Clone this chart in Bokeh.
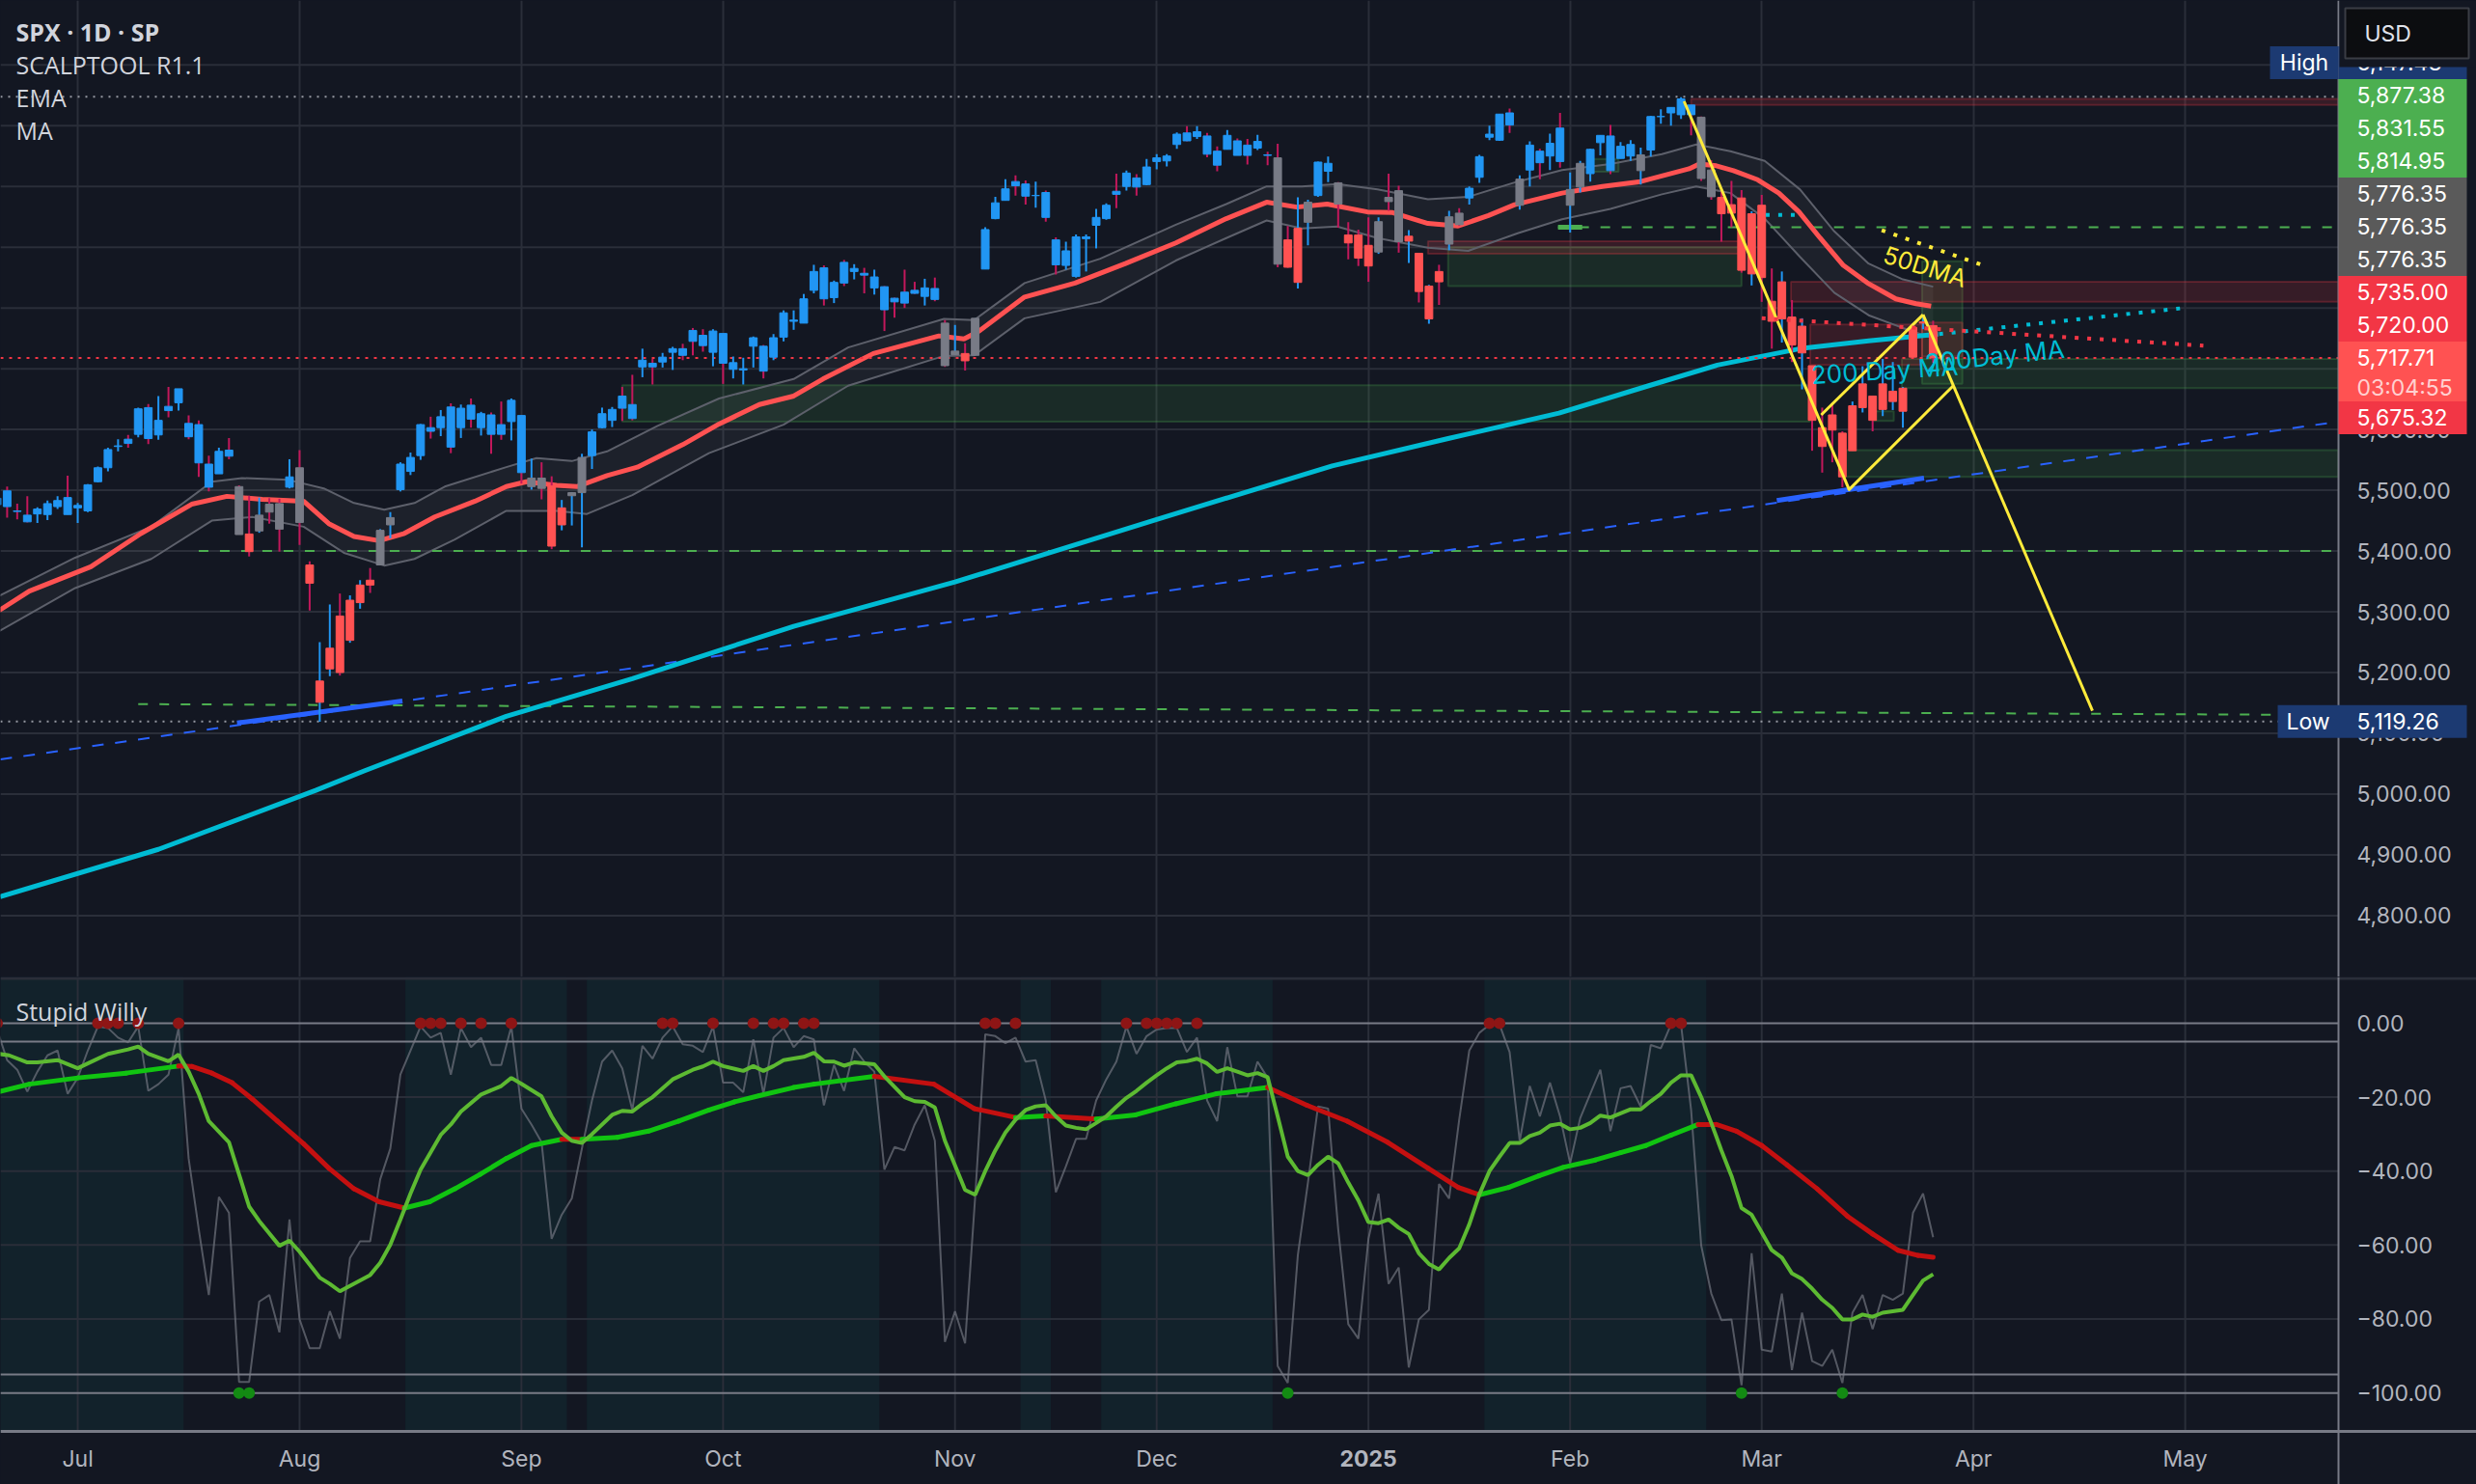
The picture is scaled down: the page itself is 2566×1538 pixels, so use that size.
from bokeh.plotting import figure
from bokeh.layouts import column
from bokeh.models import Range1d, FixedTicker, Grid
from bokeh.embed import file_html
from bokeh.resources import INLINE
from bokeh.core.properties import value

# ------------------------------------------------------------------ data
# x axis = trading-bar index (Jul 1 2024 = 0); first visible bar is Jun 18 2024
month_ticks = [0, 22, 44, 64, 87, 107, 128, 148, 167, 188, 209]
month_labels = ["Jul", "Aug", "Sep", "Oct", "Nov", "Dec", "2025", "Feb", "Mar", "Apr", "May"]
price_ticks = [4800, 4900, 5000, 5100, 5200, 5300, 5400, 5500, 5600, 5700, 5800, 5900, 6000, 6100, 6200]
willy_ticks = [0, -20, -40, -60, -80, -100]
willy_tick_labels = ["0.00", "\u221220.00", "\u221240.00", "\u221260.00", "\u221280.00", "\u2212100.00"]
willy_levels = [0, -5, -95, -100]
first_bar = -8

opens = [5476, 5499, 5466, 5459, 5461, 5460, 5473, 5488,
         5471, 5466, 5514, 5537, 5572, 5584, 5592, 5636, 5591, 5638,
         5644, 5610, 5608, 5543, 5527, 5566, 5506, 5428, 5433, 5477,
         5478, 5505, 5537, 5377, 5151, 5206, 5293, 5253, 5315, 5352,
         5377, 5443, 5501, 5531, 5557, 5603, 5603, 5637, 5603, 5640,
         5603, 5624, 5608, 5613, 5623, 5506, 5520, 5507, 5443, 5491,
         5496, 5557, 5603, 5615, 5655, 5641, 5703, 5709, 5711, 5727,
         5733, 5763, 5755, 5727, 5758, 5699, 5698, 5737, 5737, 5719,
         5752, 5778, 5775, 5829, 5866, 5817, 5875, 5860, 5857, 5833,
         5835, 5816, 5826, 5829, 5819, 5832, 5775, 5723, 5725, 5722,
         5864, 5947, 5977, 6008, 6004, 5985, 5990, 5912, 5870, 5852,
         5914, 5936, 5947, 5992, 6000, 6014, 6003, 6041, 6042, 6069,
         6088, 6082, 6083, 6058, 6061, 6075, 6068, 6063, 6052, 6047,
         5912, 5842, 5941, 5985, 6025, 6006, 5920, 5920, 5903, 5892,
         5982, 5993, 5910, 5890, 5782, 5860, 5905, 5956, 5981, 6015,
         6081, 6076, 6121, 5969, 6027, 6058, 6050, 6096, 5969, 5999,
         6021, 6072, 6083, 6046, 6050, 6026, 6060, 6115, 6121, 6118,
         6134, 6114, 6027, 5982, 5970, 5981, 5856, 5969, 5811, 5782,
         5785, 5726, 5705, 5603, 5624, 5594, 5565, 5636, 5655, 5633,
         5646, 5630, 5719, 5775, 5771]
highs = [5490, 5506, 5478, 5490, 5472, 5483, 5490, 5524,
         5479, 5510, 5539, 5570, 5584, 5591, 5636, 5642, 5655, 5670,
         5667, 5623, 5615, 5557, 5570, 5586, 5508, 5491, 5488, 5487,
         5486, 5551, 5566, 5383, 5250, 5312, 5330, 5327, 5352, 5372,
         5436, 5464, 5546, 5562, 5609, 5621, 5632, 5643, 5641, 5651,
         5629, 5628, 5646, 5651, 5624, 5552, 5546, 5523, 5484, 5497,
         5560, 5600, 5636, 5637, 5670, 5690, 5733, 5716, 5726, 5736,
         5741, 5767, 5765, 5765, 5758, 5720, 5718, 5753, 5739, 5757,
         5796, 5796, 5823, 5871, 5870, 5845, 5879, 5872, 5866, 5863,
         5836, 5817, 5863, 5843, 5848, 5850, 5780, 5772, 5742, 5783,
         5933, 5983, 6012, 6018, 6010, 6008, 5993, 5916, 5909, 5921,
         5921, 5963, 5972, 6021, 6026, 6020, 6045, 6053, 6053, 6089,
         6099, 6099, 6088, 6066, 6093, 6079, 6078, 6085, 6057, 6070,
         5935, 5982, 5978, 6041, 6049, 6007, 5941, 5929, 5949, 5949,
         6021, 6001, 5928, 5890, 5838, 5871, 5960, 5964, 6000, 6052,
         6100, 6119, 6128, 6018, 6074, 6062, 6087, 6121, 6023, 6042,
         6062, 6084, 6101, 6073, 6076, 6064, 6116, 6127, 6130, 6147,
         6134, 6115, 6043, 5992, 6009, 5994, 5959, 5986, 5865, 5860,
         5813, 5783, 5705, 5636, 5642, 5597, 5646, 5704, 5655, 5716,
         5711, 5670, 5775, 5786, 5779]
lows = [5471, 5455, 5452, 5447, 5446, 5451, 5469, 5460,
        5446, 5464, 5513, 5531, 5564, 5570, 5587, 5576, 5583, 5620,
        5631, 5584, 5522, 5498, 5527, 5551, 5427, 5391, 5430, 5445,
        5399, 5503, 5410, 5302, 5119, 5194, 5195, 5249, 5305, 5331,
        5377, 5421, 5498, 5525, 5550, 5585, 5589, 5561, 5586, 5603,
        5590, 5560, 5583, 5582, 5511, 5501, 5485, 5403, 5434, 5442,
        5406, 5535, 5602, 5604, 5614, 5615, 5686, 5674, 5702, 5698,
        5714, 5722, 5728, 5704, 5675, 5684, 5674, 5702, 5684, 5714,
        5745, 5764, 5775, 5824, 5804, 5808, 5836, 5847, 5824, 5822,
        5762, 5784, 5800, 5823, 5804, 5811, 5703, 5723, 5697, 5722,
        5864, 5946, 5977, 5985, 5970, 5965, 5942, 5855, 5863, 5850,
        5860, 5898, 5945, 5964, 5993, 5985, 6002, 6028, 6033, 6062,
        6074, 6078, 6048, 6025, 6061, 6051, 6036, 6060, 6035, 5867,
        5866, 5832, 5903, 5983, 6007, 5932, 5880, 5869, 5843, 5889,
        5960, 5891, 5874, 5809, 5774, 5805, 5895, 5935, 5970, 6006,
        6076, 6075, 6088, 5962, 6000, 6012, 6027, 6031, 5924, 5990,
        6008, 6051, 6020, 6046, 6042, 6003, 6049, 6103, 6100, 6111,
        6084, 6009, 5978, 5909, 5933, 5858, 5837, 5810, 5733, 5743,
        5711, 5666, 5565, 5529, 5546, 5505, 5565, 5628, 5597, 5622,
        5632, 5603, 5719, 5765, 5710]
closes = [5487, 5473, 5465, 5448, 5469, 5478, 5483, 5460,
          5475, 5509, 5537, 5567, 5573, 5577, 5634, 5585, 5615, 5631,
          5667, 5588, 5545, 5505, 5564, 5556, 5427, 5399, 5459, 5464,
          5436, 5522, 5447, 5347, 5186, 5240, 5200, 5319, 5344, 5344,
          5434, 5455, 5543, 5554, 5608, 5597, 5621, 5571, 5635, 5617,
          5626, 5592, 5592, 5648, 5529, 5520, 5503, 5408, 5471, 5496,
          5554, 5596, 5626, 5633, 5635, 5618, 5714, 5703, 5719, 5733,
          5722, 5745, 5738, 5762, 5709, 5710, 5700, 5751, 5696, 5751,
          5792, 5780, 5815, 5860, 5815, 5842, 5841, 5865, 5854, 5851,
          5797, 5810, 5808, 5824, 5833, 5814, 5705, 5729, 5713, 5783,
          5929, 5973, 5996, 6001, 5984, 5985, 5949, 5871, 5894, 5917,
          5917, 5949, 5969, 5987, 6022, 5999, 6032, 6047, 6050, 6086,
          6075, 6090, 6053, 6035, 6084, 6051, 6051, 6074, 6051, 5872,
          5867, 5931, 5974, 6040, 6038, 5971, 5907, 5882, 5869, 5942,
          5975, 5909, 5918, 5827, 5836, 5843, 5950, 5937, 5997, 6049,
          6086, 6119, 6101, 6012, 6068, 6039, 6071, 6041, 5995, 6038,
          6061, 6084, 6026, 6066, 6069, 6052, 6115, 6115, 6130, 6144,
          6118, 6013, 5983, 5955, 5956, 5862, 5955, 5850, 5778, 5843,
          5739, 5770, 5615, 5572, 5599, 5522, 5639, 5675, 5615, 5675,
          5663, 5668, 5768, 5777, 5718]
# body colour state of each bar: b = blue (trend up), r = red (trend down), g = grey (neutral)
body_state = ("b" * 24 + "grgggbgr" + "r" * 6 + "gg" + "b" * 13 + "gg" + "rr" + "gg" + "b" * 35
              + "gg" + "r" + "g" + "b" * 29 + "grrgbbgrrr" + "ggg" + "rrrr" + "gg" + "b" * 5 + "g"
              + "b" * 4 + "gg" + "b" * 5 + "g" + "b" * 5 + "gg" + "r" * 22)

# EMA ribbon
ema_x = [-7.8, -4.8, 1.3, 6.3, 11.3, 14.8, 18.3, 22.4, 24.9, 27.4, 29.9, 32.4, 35.4, 39.4, 42.5, 44.5,
         47.5, 49.5, 52.5, 55.5, 60, 63.6, 67.6, 71, 73.9, 78.9, 85.4, 87.9, 89.4, 93.9, 98.9, 103.9,
         108.9, 113.9, 117.9, 120.9, 123.9, 127.9, 130.4, 133.9, 136.9, 139.9, 142.5, 147.2, 151.2,
         155, 159.8, 160.8, 162.5, 164.2, 166.6, 168.7, 170.7, 172.8, 175.1, 177.5, 180.3, 182.3, 183.8]
ema_y = [5302, 5334, 5374, 5429, 5477, 5490, 5485, 5482, 5445, 5424, 5417, 5429, 5456, 5482, 5506, 5514,
         5508, 5506, 5524, 5538, 5575, 5609, 5641, 5655, 5683, 5725, 5754, 5749, 5762, 5818, 5841, 5873,
         5907, 5947, 5974, 5966, 5971, 5958, 5957, 5939, 5935, 5952, 5970, 5989, 6000,
         6008, 6029, 6037, 6034, 6026, 6011, 5989, 5958, 5915, 5870, 5841, 5815, 5807, 5803]
band_up_x = [-7.8, -0.25, 7.3, 13.3, 16.3, 20.9, 24.4, 27.4, 30.4, 33.4, 36.4, 42.5, 45.5, 49, 52.5,
             57.5, 63.6, 71, 76.4, 85.9, 88.9, 93.9, 101.4, 108.9, 113.9, 117.9, 121.4, 124.9, 128.9,
             133.9, 137.9, 142.8, 147.2, 152, 157.1, 160.5, 163.9, 167.3, 170.8, 174.2, 177.6, 181, 184]
band_up_y = [5326, 5389, 5440, 5514, 5520, 5517, 5503, 5479, 5468, 5479, 5506, 5538, 5553, 5548, 5564,
             5606, 5651, 5683, 5735, 5782, 5780, 5841, 5881, 5937, 5971, 6000, 6000, 6004, 5995,
             5979, 5983, 6008, 6027, 6037, 6053, 6069, 6058, 6042, 5995, 5926, 5873, 5847, 5835]
band_lo_x = [-7.8, -0.25, 7.3, 13.3, 17.3, 22.4, 26.4, 30.4, 33.4, 37.4, 42.5, 47.5, 50.5, 55, 62.6,
             70, 76.4, 85.9, 88.9, 93.9, 101.4, 108.9, 113.9, 117.9, 121.4, 124.9, 128.9, 133.9,
             137.9, 142.8, 147.2, 152, 157.1, 160.5, 163.9, 167.3, 170.8, 174.2, 177.6, 181, 184]
band_lo_y = [5268, 5339, 5387, 5450, 5456, 5440, 5397, 5376, 5387, 5419, 5466, 5466, 5461, 5492, 5561,
             5608, 5672, 5721, 5722, 5783, 5810, 5878, 5915, 5944, 5931, 5934, 5915, 5899,
             5894, 5923, 5946, 5963, 5987, 6000, 5989, 5947, 5884, 5825, 5788, 5767, 5750]
# 200-day moving average
ma200_x = [-7.7, 8, 23.6, 28.4, 42.5, 55, 71, 87, 107, 124.4, 135.9, 146.9, 155.8, 162.6, 170.8, 177.6, 184.5]
ma200_y = [4831, 4909, 5006, 5038, 5128, 5190, 5276, 5349, 5452, 5540, 5585, 5627, 5672, 5706, 5733, 5746, 5757]

# supply / demand zones (left, right, bottom, top)
green_zones = [(54, 171.8, 5613, 5673), (135.9, 165, 5836, 5900), (150, 152.8, 6024, 6045),
               (180.9, 224.2, 5668, 5716), (175.2, 224.2, 5522, 5566), (182.9, 186.9, 5675, 5877),
               (178.1, 180.1, 5614, 5630)]
red_zones = [(160, 224.2, 6134, 6144), (133.9, 165, 5889, 5910), (169.9, 224.2, 5810, 5843),
             (171.8, 182.9, 5706, 5773), (182.9, 186.9, 5720, 5776)]

high_price = 6147.43
low_price = 5119.26
last_price = 5717.71
green_dash_flat = (12, 224.2, 5400)
green_dash_low = ((6, 5148), (224.2, 5130))
green_dash_top = (146.8, 224.2, 5933)
blue_trend = ((-7.66, 5057), (224.2, 5613))
blue_solid = [((15.8, 5117), (32.2, 5153)), ((168.5, 5483), (183.1, 5520))]
yellow_lines = [((159.3, 6140), (175.7, 5500)), ((172.9, 5624), (183.0, 5789)),
                ((175.6, 5500), (186.0, 5672)), ((183.0, 5789), (199.8, 5137))]
yellow_dotted = ((178.9, 5928), (189.0, 5870))
cyan_dotted = [((167.4, 5953), (170.6, 5953)), ((184.6, 5757), (208.9, 5800))]
red_dotted = ((167.0, 5783), (210.8, 5738))

# right-axis price tags (top to bottom)
tag_texts = ["6,147.43", "5,877.38", "5,831.55", "5,814.95", "5,776.35", "5,776.35", "5,776.35",
             "5,735.00", "5,720.00", "5,717.71", "03:04:55", "5,675.32"]
tag_kinds = ["high", "green", "green", "green", "grey", "grey", "grey", "red", "red", "last", "timer", "red"]

# Stupid Willy pane
willy_raw = [-1.7, -10.0, -12.6, -18.5, -13.1, -8.7, -7.4, -19.1,
             -14.8, -7.4, -0.9, -1.3, -3.9, -5.2, -0.9, -18.3, -16.5, -13.9,
             -1.3, -36.6, -55.7, -73.5, -47.0, -51.3, -97.0, -97.0, -75.3, -73.5,
             -83.6, -53.1, -80.1, -87.9, -87.9, -77.9, -85.3, -63.5, -59.0, -59.0,
             -42.2, -33.9, -13.9, -7.4, -0.9, -3.9, -2.6, -13.9, -1.3, -6.5,
             -3.9, -11.3, -11.3, -0.9, -23.1, -27.4, -32.2, -58.3, -51.8, -47.4,
             -33.9, -20.9, -10.4, -7.4, -12.2, -23.5, -6.1, -9.6, -3.9, -0.9,
             -5.7, -6.1, -7.8, -0.9, -16.1, -16.1, -18.7, -4.4, -19.1, -3.9,
             -1.3, -6.5, -3.5, -4.4, -22.2, -11.3, -18.3, -6.8, -10.4, -13.1,
             -39.6, -33.5, -34.4, -27.4, -22.2, -31.8, -86.2, -77.9, -86.6, -47.0,
             -3.0, -3.5, -5.4, -3.9, -10.4, -10.0, -20.9, -45.7, -38.7, -31.3,
             -31.3, -20.9, -15.2, -10.4, -0.9, -8.3, -3.5, -1.7, -1.3, -1.3,
             -7.8, -3.9, -20.9, -26.5, -6.5, -19.8, -19.8, -10.4, -14.8, -92.7,
             -97.3, -62.7, -43.1, -22.5, -23.1, -55.7, -81.4, -85.3, -58.3, -46.1,
             -70.5, -66.1, -93.1, -80.1, -77.5, -43.5, -47.4, -26.1, -7.4, -2.6,
             -0.4, -0.4, -7.8, -31.8, -17.0, -25.2, -16.1, -25.2, -37.9, -25.7,
             -19.1, -12.6, -29.2, -17.6, -17.0, -22.6, -5.9, -6.8, -0.4, -0.4,
             -23.5, -60.1, -73.1, -80.3, -80.1, -97.9, -62.2, -88.3, -88.8, -73.1,
             -93.8, -78.3, -91.4, -92.7, -88.3, -97.3, -78.3, -73.5, -82.7, -73.5,
             -74.8, -73.1, -51.3, -46.1, -57.9]
fast_x = [-7.8, -6.8, -5, -4, -2, 0, 1, 3, 5, 6, 7, 9, 10, 11, 12, 13, 15, 16, 17, 18, 20, 21, 22, 24, 25,
          26, 29, 30, 31, 32, 33, 34, 36, 37, 38, 40, 42, 43, 44, 46, 47, 48, 49, 50, 51, 53, 54, 55, 56,
          57, 59, 61, 62, 63, 64, 66, 67, 68, 69, 70, 72, 73, 74, 75, 76, 77, 79, 80, 82, 83, 84, 85, 86,
          88, 89, 90, 91, 92, 93, 94, 95, 96, 97, 98, 99, 100, 101, 102, 103, 104, 105, 106, 107, 108,
          109, 110, 111, 112, 113, 114, 115, 116, 117, 118, 119, 120, 121, 122, 123, 124, 125, 126, 127,
          128, 129, 130, 131, 132, 133, 134, 135, 136, 137, 138, 139, 140, 141, 142, 143, 144, 145, 146,
          147, 148, 149, 150, 151, 152, 153, 154, 155, 156, 157, 158, 159, 160, 161, 162, 163, 164, 165,
          166, 167, 168, 169, 170, 171, 172, 173, 174, 175, 176, 177, 178, 179, 180, 181, 182, 183, 184]
fast_y = [-8.3, -8.7, -10.6, -10.6, -10.0, -12.2, -10.9, -8.3, -7.1, -6.3, -8.3, -10.3, -8.5, -13.1,
          -19.1, -26.5, -32.2, -40.9, -49.6, -53.5, -60.2, -58.8, -61.8, -68.8, -70.5, -72.5, -68.1,
          -64.8, -59.9, -53.1, -46.1, -39.6, -30.2, -27.4, -23.9, -19.3, -17.0, -14.8, -16.4, -19.8,
          -25.2, -29.6, -31.8, -32.4, -30.0, -24.8, -23.7, -23.9, -21.8, -20.0, -15.2, -12.6, -11.7,
          -10.4, -11.6, -12.9, -11.6, -12.9, -11.6, -10.0, -9.1, -8.0, -10.3, -10.4, -11.5, -10.6,
          -11.1, -14.4, -20.0, -21.1, -21.3, -22.8, -31.8, -45.1, -46.4, -40.0, -34.4, -29.6, -26.1,
          -23.5, -22.5, -22.2, -25.2, -27.7, -28.3, -28.7, -27.0, -25.2, -22.6, -20.2, -18.3, -16.1,
          -14.1, -12.2, -10.6, -10.3, -9.6, -10.9, -13.2, -12.2, -13.1, -14.1, -13.5, -14.6, -25.2,
          -36.1, -40.0, -41.1, -38.3, -36.1, -37.9, -43.1, -47.9, -53.8, -54.1, -53.1, -55.3, -57.0,
          -62.2, -65.1, -66.6, -63.5, -60.9, -54.4, -46.3, -40.0, -36.1, -32.4, -32.4, -30.5, -29.6,
          -27.7, -27.2, -28.7, -28.3, -27.0, -25.0, -25.5, -24.4, -23.3, -23.3, -21.1, -19.1, -16.1,
          -14.1, -14.1, -20.0, -27.0, -34.4, -41.3, -50.0, -51.8, -56.6, -61.4, -63.4, -67.7, -69.2,
          -71.8, -74.8, -77.0, -80.1, -80.1, -78.8, -79.4, -78.3, -77.9, -77.5, -73.5, -69.6, -67.9]
slow_x = [-7.8, -4.8, 0, 4.8, 10, 11.3, 13.3, 15.3, 17.3, 19.8, 22.4, 24.9, 27.4, 29.9, 32.4, 34.9, 37.4,
          39.9, 42.5, 45, 48, 50, 53.5, 56.6, 59.6, 62.6, 65.1, 67.6, 71, 73, 79, 84.9, 88.9, 93, 96, 101,
          104.9, 108.9, 112.9, 118, 121.9, 125.9, 129.9, 133.9, 136.9, 139, 141.9, 144.9, 147.3, 150.5,
          153, 155.5, 158, 160.7, 162.5, 164.5, 167, 169.5, 172.5, 175.5, 178, 180.5, 182.5, 184]
slow_y = [-18.5, -16.5, -14.8, -13.5, -11.6, -11.7, -13.5, -16.1, -20.5, -26.5, -32.6, -39.2, -44.8,
          -48.3, -50.0, -48.3, -44.8, -40.9, -36.6, -33.1, -31.4, -31.4, -30.9, -29.2, -26.5, -23.5,
          -21.3, -19.6, -17.4, -16.5, -14.4, -16.5, -23.1, -25.5, -25.1, -25.9, -24.8, -21.8, -19.1,
          -17.4, -22.2, -26.5, -32.2, -39.2, -44.4, -46.4, -44.4, -41.3, -39.0, -37.0, -35.0, -33.1,
          -30.3, -27.4, -27.4, -29.2, -33.1, -38.3, -44.8, -52.2, -57.0, -61.4, -62.8, -63.3]
slow_red_spans = [(10, 32.4), (48, 50), (79, 93), (96, 101), (118, 139), (160.7, 185)]
top_dots = [-8, 2, 3, 4, 6, 10, 34, 35, 36, 38, 40, 43, 58, 59, 63, 67, 69, 70, 72, 73, 90, 91, 93,
            104, 106, 107, 108, 109, 111, 140, 141, 158, 159]
bottom_dots = [16, 17, 120, 165, 175]
teal_spans = [(-8.5, 10.5), (32.5, 48.5), (50.5, 79.5), (93.5, 96.5), (101.5, 118.5), (139.5, 161.5)]

# ------------------------------------------------------------------ style / layout
BG = "#131722"
GRIDC = "#2a2e39"
AXC = "#b2b5be"
SEP = "#787b86"
FONT = "Inter"
TXT = "#d1d4dc"
TOTAL_W = 2566
FRAME_W, MAIN_H = 2423, 1012
LOW_H, LOW_FRAME_H = 526, 471
X0, X1 = -7.66, 224.2
Y0, Y1 = 4699.0, 6306.0
W1, W2 = -110.4, 12.5
PX_X = FRAME_W / (X1 - X0)
PX_Y = MAIN_H / (Y1 - Y0)
PX_W = LOW_FRAME_H / (W2 - W1)
XR = X0 + TOTAL_W / PX_X          # both panes also cover the price-scale strip
W1X = W2 - LOW_H / PX_W           # lower pane also covers the time-scale strip


def bx(px):  # screen x -> bar coordinate (annotation placement only)
    return X0 + px / PX_X


def by(py):  # screen y -> price (annotation placement only)
    return Y1 - py / PX_Y


def bw(py):  # screen y inside lower pane -> indicator value
    return W2 - py / PX_W


LABEL_X = bx(2442)

# ================================================================== price pane
p = figure(width=TOTAL_W, height=MAIN_H, x_range=Range1d(X0, XR), y_range=Range1d(Y0, Y1),
           x_axis_location=None, y_axis_location=None, toolbar_location=None,
           output_backend="svg", background_fill_color=BG, border_fill_color=BG,
           min_border_left=0, min_border_right=0, min_border_top=0, min_border_bottom=0,
           outline_line_color=None)
p.grid.visible = False
p.add_layout(Grid(dimension=0, ticker=FixedTicker(ticks=month_ticks), grid_line_color=GRIDC,
                  grid_line_width=2))
p.segment(x0=[X0] * len(price_ticks), x1=[X1] * len(price_ticks), y0=price_ticks, y1=price_ticks,
          line_color=GRIDC, line_width=2)

# zones
p.quad(left=[z[0] for z in green_zones], right=[z[1] for z in green_zones],
       bottom=[z[2] for z in green_zones], top=[z[3] for z in green_zones],
       fill_color="#4caf50", fill_alpha=0.13, line_color="#4caf50", line_alpha=0.25, line_width=2)
p.quad(left=[z[0] for z in red_zones], right=[z[1] for z in red_zones],
       bottom=[z[2] for z in red_zones], top=[z[3] for z in red_zones],
       fill_color="#f23645", fill_alpha=0.16, line_color="#f23645", line_alpha=0.25, line_width=2)

# EMA ribbon
p.patch(band_up_x + band_lo_x[::-1], band_up_y + band_lo_y[::-1], fill_color="#ffffff", fill_alpha=0.045,
        line_color=None)
p.line(band_up_x, band_up_y, line_color="#5d606b", line_width=2)
p.line(band_lo_x, band_lo_y, line_color="#5d606b", line_width=2)

# horizontal reference lines
p.line([X0, X1], [high_price, high_price], line_color="#9598a1", line_width=2, line_dash="2 6")
p.line([X0, X1], [low_price, low_price], line_color="#9598a1", line_width=2, line_dash="2 6")
p.line([green_dash_flat[0], green_dash_flat[1]], [green_dash_flat[2]] * 2, line_color="#4caf50",
       line_width=2, line_dash="10 12")
p.line([green_dash_low[0][0], green_dash_low[1][0]], [green_dash_low[0][1], green_dash_low[1][1]],
       line_color="#4caf50", line_width=2, line_dash="10 12")
p.line([green_dash_top[0], green_dash_top[1]], [green_dash_top[2]] * 2, line_color="#4caf50",
       line_width=2, line_dash="10 12")
p.line([green_dash_top[0], green_dash_top[0] + 2.4], [green_dash_top[2]] * 2, line_color="#4caf50",
       line_width=5)
p.line([blue_trend[0][0], blue_trend[1][0]], [blue_trend[0][1], blue_trend[1][1]],
       line_color="#2962ff", line_width=2, line_dash="12 12")
for a, b in blue_solid:
    p.line([a[0], b[0]], [a[1], b[1]], line_color="#2962ff", line_width=5)

# moving averages
p.line(ma200_x, ma200_y, line_color="#00bcd4", line_width=5)
p.line(ema_x, ema_y, line_color="#ff5252", line_width=5)
p.line([X0, X1], [last_price, last_price], line_color="#f23645", line_width=2, line_dash="3 6")

# candles
COLS = {"b": "#2196f3", "r": "#ff5252", "g": "#787b86"}
xs = [first_bar + i for i in range(len(opens))]
body_cols = [COLS[s] for s in body_state]
wick_cols = ["#2196f3" if c >= o else "#c2185b" for o, c in zip(opens, closes)]
p.segment(xs, highs, xs, lows, line_color=wick_cols, line_width=2)
p.vbar(x=xs, width=0.76, top=[max(o, c) for o, c in zip(opens, closes)],
       bottom=[min(o, c) for o, c in zip(opens, closes)], fill_color=body_cols, line_color=body_cols,
       line_width=1)

# drawings
for a, b in yellow_lines:
    p.line([a[0], b[0]], [a[1], b[1]], line_color="#ffeb3b", line_width=3)
p.line([yellow_dotted[0][0], yellow_dotted[1][0]], [yellow_dotted[0][1], yellow_dotted[1][1]],
       line_color="#ffeb3b", line_width=4, line_dash="4 9")
for a, b in cyan_dotted:
    p.line([a[0], b[0]], [a[1], b[1]], line_color="#00bcd4", line_width=4, line_dash="4 9")
p.line([red_dotted[0][0], red_dotted[1][0]], [red_dotted[0][1], red_dotted[1][1]],
       line_color="#f23645", line_width=4, line_dash="4 9")

p.text(x=[183.2], y=[5868], text=["50DMA"], angle=-0.30, text_align="center", text_baseline="middle",
       text_font=value(FONT), text_font_size=value("25px"), text_color="#ffeb3b")
p.text(x=[171.9], y=[5690], text=["200 Day MA"], angle=0.06, text_align="left", text_baseline="alphabetic",
       text_font=value(FONT), text_font_size=value("26px"), text_color="#00bcd4")
p.text(x=[183.2], y=[5709], text=["200Day MA"], angle=0.105, text_align="left", text_baseline="alphabetic",
       text_font=value(FONT), text_font_size=value("26px"), text_color="#00bcd4")

# legend texts (top left)
p.text(x=[bx(16)], y=[by(32)], text=["SPX \u00b7 1D \u00b7 SP"], text_align="left", text_baseline="middle",
       text_font=value("Open Sans"), text_font_size=value("25px"), text_color=TXT, text_font_style="bold")
p.text(x=[bx(16)] * 3, y=[by(66), by(100), by(134)], text=["SCALPTOOL R1.1", "EMA", "MA"],
       text_align="left", text_baseline="middle", text_font=value("Open Sans"),
       text_font_size=value("25px"), text_color=TXT)

# ---- price scale strip (right)
p.quad(left=[X1], right=[XR], bottom=[Y0], top=[Y1], fill_color=BG, line_color=None)
p.line([X1, X1], [Y0, Y1], line_color=SEP, line_width=2)
p.text(x=[LABEL_X] * len(price_ticks), y=price_ticks, text=[f"{t:,.2f}" for t in price_ticks],
       text_align="left", text_baseline="middle", text_font=value(FONT), text_font_size=value("23px"),
       text_color=AXC)

# stacked price tags around the last price
TAG_COL = {"high": "#1c3a72", "green": "#4caf50", "grey": "#5a5a5a", "red": "#f23645",
           "last": "#ff5252", "timer": "#ff5252"}
TAG_H = {"timer": 28}
i_last = tag_kinds.index("last")
offs = [0.0] * len(tag_kinds)
for i in range(i_last - 1, -1, -1):
    offs[i] = offs[i + 1] - (TAG_H.get(tag_kinds[i], 34) + TAG_H.get(tag_kinds[i + 1], 34)) / 2
for i in range(i_last + 1, len(tag_kinds)):
    offs[i] = offs[i - 1] + (TAG_H.get(tag_kinds[i], 34) + TAG_H.get(tag_kinds[i - 1], 34)) / 2
tag_y = [last_price - o / PX_Y for o in offs]
tag_h = [TAG_H.get(k, 34) / PX_Y for k in tag_kinds]
TL, TR = bx(2423), bx(2556)
p.quad(left=[TL] * len(tag_y), right=[TR] * len(tag_y), bottom=[y - h / 2 for y, h in zip(tag_y, tag_h)],
       top=[y + h / 2 for y, h in zip(tag_y, tag_h)], fill_color=[TAG_COL[k] for k in tag_kinds],
       line_color=None)
p.text(x=[LABEL_X] * len(tag_y), y=tag_y, text=tag_texts, text_align="left", text_baseline="middle",
       text_font=value(FONT), text_font_size=value("23px"),
       text_color=["#ffd0d0" if k == "timer" else "#ffffff" for k in tag_kinds])
# High / Low markers
p.quad(left=[bx(2352)], right=[TL], bottom=[tag_y[0] - tag_h[0] / 2], top=[tag_y[0] + tag_h[0] / 2],
       fill_color=TAG_COL["high"], line_color=None)
p.text(x=[bx(2387.5)], y=[tag_y[0]], text=["High"], text_align="center", text_baseline="middle",
       text_font=value(FONT), text_font_size=value("23px"), text_color="#ffffff")
p.quad(left=[bx(2360)], right=[TR], bottom=[low_price - 17 / PX_Y], top=[low_price + 17 / PX_Y],
       fill_color=TAG_COL["high"], line_color=None)
p.text(x=[bx(2391.5), LABEL_X], y=[low_price, low_price], text=["Low", f"{low_price:,.2f}"],
       text_align=["center", "left"], text_baseline="middle", text_font=value(FONT),
       text_font_size=value("23px"), text_color="#ffffff")
# currency button (its backdrop hides the top of the High tag, as in the original)
p.quad(left=[bx(2424)], right=[XR], bottom=[by(69)], top=[Y1], fill_color=BG, line_color=None)
p.quad(left=[bx(2430)], right=[bx(2558)], bottom=[by(60)], top=[by(8)], fill_color="#0c0d10",
       line_color="#3a3d44", line_width=2)
p.text(x=[bx(2450)], y=[by(34)], text=["USD"], text_align="left", text_baseline="middle",
       text_font=value(FONT), text_font_size=value("23px"), text_color="#e0e3eb")

# ================================================================== Stupid Willy pane
p2 = figure(width=TOTAL_W, height=LOW_H, x_range=Range1d(X0, XR), y_range=Range1d(W1X, W2),
            y_axis_location=None, x_axis_location=None, toolbar_location=None,
            output_backend="svg", background_fill_color=BG, border_fill_color=BG,
            min_border_left=0, min_border_right=0, min_border_top=0, min_border_bottom=0,
            outline_line_color=None)
p2.grid.visible = False
p2.quad(left=[s[0] for s in teal_spans], right=[s[1] for s in teal_spans], bottom=W1, top=W2,
        fill_color="#0e8a80", fill_alpha=0.1, line_color=None)
p2.segment(x0=month_ticks, x1=month_ticks, y0=[W1] * len(month_ticks), y1=[W2] * len(month_ticks),
           line_color=GRIDC, line_width=2)
p2.segment(x0=[X0] * 4, x1=[X1] * 4, y0=[-80, -60, -40, -20], y1=[-80, -60, -40, -20],
           line_color=GRIDC, line_width=2)
p2.segment(x0=[X0] * len(willy_levels), x1=[X1] * len(willy_levels), y0=willy_levels, y1=willy_levels,
           line_color=SEP, line_width=2)
# pane borders
p2.line([X0, XR], [W2 - 1.5 / PX_W] * 2, line_color=GRIDC, line_width=3)
p2.line([X0, XR], [W1, W1], line_color=SEP, line_width=3)
p2.line([X1, X1], [W1X, W2], line_color=SEP, line_width=2)

p2.line([first_bar + i for i in range(len(willy_raw))], willy_raw, line_color="#787b86", line_alpha=0.65,
        line_width=2)
sx_, sy_, sc_ = [], [], []
for i in range(len(slow_x) - 1):
    mid = (slow_x[i] + slow_x[i + 1]) / 2
    red = any(a <= mid <= b for a, b in slow_red_spans)
    sx_.append([slow_x[i], slow_x[i + 1]])
    sy_.append([slow_y[i], slow_y[i + 1]])
    sc_.append("#c41010" if red else "#11c411")
p2.multi_line(sx_, sy_, line_color=sc_, line_width=5, line_cap="round")
p2.line(fast_x, fast_y, line_color="#5dba32", line_width=4)
p2.scatter(top_dots, [0] * len(top_dots), size=12, fill_color="#8e1515", line_color=None)
p2.scatter(bottom_dots, [-100] * len(bottom_dots), size=12, fill_color="#138a13", line_color=None)
p2.text(x=[bx(16)], y=[bw(35)], text=["Stupid Willy"], text_align="left", text_baseline="middle",
        text_font=value("Open Sans"), text_font_size=value("25px"), text_color=TXT)

# indicator scale labels
p2.text(x=[LABEL_X] * len(willy_ticks), y=willy_ticks, text=willy_tick_labels, text_align="left",
        text_baseline="middle", text_font=value(FONT), text_font_size=value("23px"), text_color=AXC)

# time scale labels (inside the lower strip)
reg = [(t, l) for t, l in zip(month_ticks, month_labels) if l != "2025"]
p2.text(x=[t for t, _ in reg], y=[bw(499)] * len(reg), text=[l for _, l in reg], text_align="center",
        text_baseline="middle", text_font=value(FONT), text_font_size=value("23px"), text_color=AXC)
yr = month_labels.index("2025")
p2.text(x=[month_ticks[yr]], y=[bw(499)], text=[month_labels[yr]], text_align="center",
        text_baseline="middle", text_font=value(FONT), text_font_size=value("23px"), text_color=AXC,
        text_font_style="bold")

layout = column(p, p2, spacing=0)
layout.styles = {"background-color": BG}
open("out.html", "w").write(file_html(layout, INLINE, title="SPX 1D"))
